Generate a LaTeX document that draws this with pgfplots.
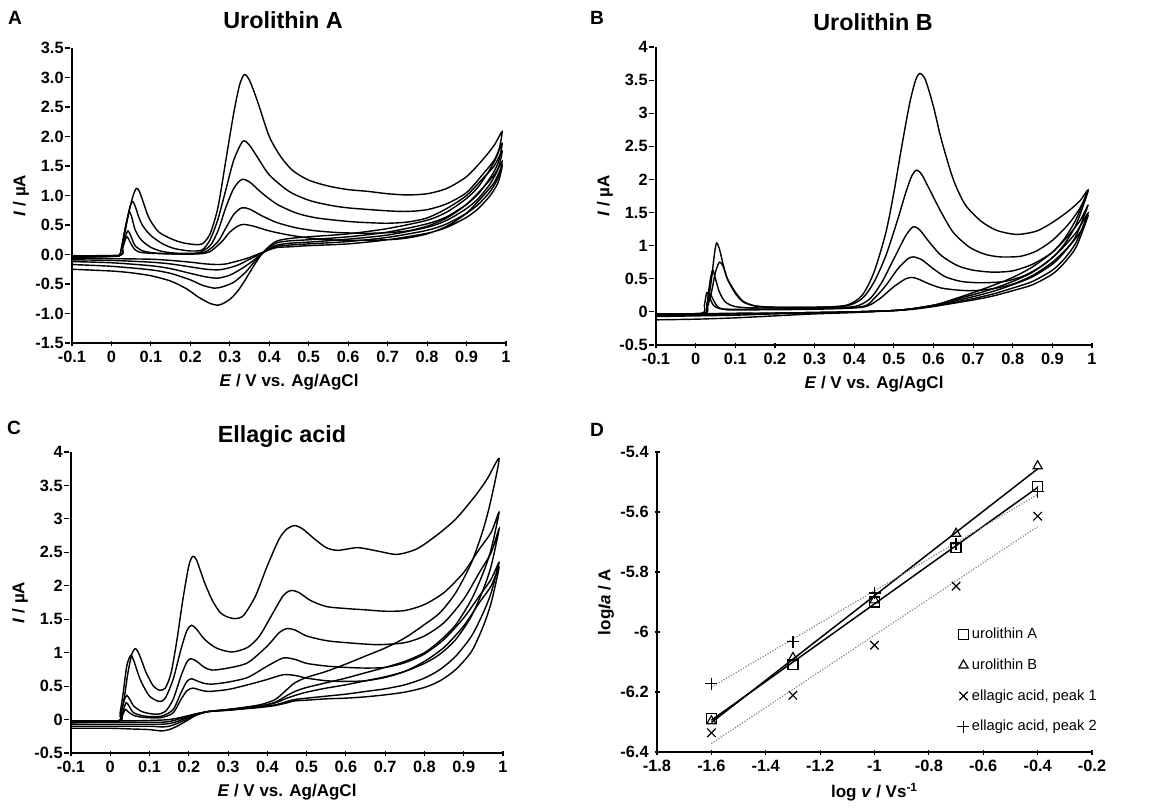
\documentclass[border=0pt]{standalone}
\usepackage{fontspec}
\setmainfont{Liberation Sans}
\usepackage{pgfplots}
\usepackage{pgfplotstable}
\pgfplotsset{compat=1.18}

\pgfplotsset{
  panel/.style={
    scale only axis,
    axis lines=left,
    axis line style={-, line width=0.95pt},
    tick style={black, line width=0.7pt},
    major tick length=3pt,
    tick label style={font=\fontsize{9.8}{11}\selectfont\bfseries},
    /pgf/number format/assume math mode=true,
    label style={font=\fontsize{10.2}{12}\selectfont\bfseries},
    ylabel shift=-3pt,
  },
  cv/.style={panel,
    xmin=-0.1, xmax=1,
    xtick={-0.1,0,0.1,0.2,0.3,0.4,0.5,0.6,0.7,0.8,0.9,1},
    xlabel={\textit{E} / V vs. Ag/AgCl},
    ylabel={\textit{I} / µA},
    ytick style={xshift=-3pt},
  },
  cvl/.style={black, line width=0.85pt, smooth, tension=0.45, mark=none},
}

\pgfplotstableread{
logv uroA uroB eaI eaII
-1.6 -6.289 -6.297 -6.336 -6.172
-1.3 -6.109 -6.086 -6.211 -6.033
-1.0 -5.900 -5.894 -6.044 -5.870
-0.7 -5.719 -5.672 -5.847 -5.706
-0.4 -5.514 -5.447 -5.614 -5.533
}\tabD

\begin{document}
\begin{tikzpicture}
\useasboundingbox (0,0) rectangle (703.8pt,-486.6pt);

% ---------- A: urolithin A ----------
\begin{axis}[cv, at={(43.2pt,-205.8pt)}, anchor=south west,
  width=260.4pt, height=177pt, ymin=-1.5, ymax=3.5,
  ytick={-1.5,-1,-0.5,0,0.5,1,1.5,2,2.5,3,3.5},
  yticklabel style={/pgf/number format/.cd, fixed, zerofill, precision=1}]
\addplot[cvl] coordinates {
(-0.1,-0.05) (0.0,-0.03) (0.02,-0.02) (0.025,0.1) (0.035,0.45) (0.045,0.75) (0.055,1.0) (0.063,1.12) (0.07,1.08) (0.08,0.9) (0.09,0.7) (0.1,0.56) (0.12,0.38) (0.15,0.27) (0.18,0.2) (0.21,0.17) (0.23,0.18) (0.25,0.35) (0.27,0.8) (0.29,1.6) (0.31,2.4) (0.325,2.88) (0.337,3.05) (0.35,2.95) (0.37,2.6) (0.4,2.0) (0.43,1.65) (0.46,1.42) (0.5,1.26) (0.55,1.16) (0.6,1.1) (0.65,1.07) (0.7,1.03) (0.75,1.01) (0.8,1.03) (0.85,1.12) (0.9,1.32) (0.94,1.6) (0.97,1.85) (0.99,2.08)
(0.98,1.72) (0.96,1.45) (0.93,1.15) (0.9,0.95) (0.85,0.72) (0.8,0.58) (0.7,0.44) (0.6,0.35) (0.5,0.3) (0.45,0.27) (0.42,0.23) (0.4,0.14) (0.38,0.0) (0.36,-0.2) (0.34,-0.42) (0.32,-0.62) (0.3,-0.76) (0.28,-0.84) (0.27,-0.86) (0.25,-0.83) (0.22,-0.72) (0.19,-0.58) (0.15,-0.45) (0.1,-0.36) (0.05,-0.31) (0.0,-0.28) (-0.1,-0.25)};
\addplot[cvl] coordinates {
(-0.1,-0.04) (0.0,-0.03) (0.02,-0.02) (0.025,0.1) (0.035,0.4) (0.045,0.75) (0.053,0.9) (0.06,0.82) (0.07,0.62) (0.08,0.48) (0.1,0.32) (0.13,0.18) (0.16,0.1) (0.2,0.06) (0.23,0.08) (0.25,0.25) (0.27,0.6) (0.29,1.1) (0.31,1.6) (0.333,1.92) (0.35,1.85) (0.37,1.65) (0.4,1.35) (0.45,1.07) (0.5,0.92) (0.55,0.84) (0.6,0.79) (0.7,0.74) (0.75,0.73) (0.8,0.76) (0.85,0.86) (0.9,1.05) (0.94,1.35) (0.97,1.6) (0.99,1.88)
(0.98,1.55) (0.96,1.3) (0.93,1.03) (0.9,0.85) (0.85,0.64) (0.8,0.52) (0.7,0.38) (0.6,0.3) (0.5,0.25) (0.45,0.23) (0.42,0.2) (0.4,0.12) (0.38,0.0) (0.36,-0.14) (0.34,-0.3) (0.31,-0.47) (0.28,-0.55) (0.26,-0.57) (0.23,-0.52) (0.2,-0.43) (0.15,-0.32) (0.1,-0.26) (0.0,-0.2) (-0.1,-0.17)};
\addplot[cvl] coordinates {
(-0.1,-0.04) (0.02,-0.02) (0.027,0.15) (0.035,0.45) (0.045,0.72) (0.052,0.62) (0.06,0.42) (0.075,0.25) (0.1,0.12) (0.13,0.05) (0.17,0.02) (0.22,0.03) (0.25,0.15) (0.27,0.4) (0.29,0.8) (0.31,1.12) (0.33,1.27) (0.35,1.23) (0.38,1.05) (0.42,0.85) (0.47,0.7) (0.52,0.62) (0.6,0.56) (0.65,0.54) (0.7,0.53) (0.75,0.55) (0.8,0.62) (0.85,0.78) (0.9,1.0) (0.94,1.28) (0.97,1.5) (0.99,1.75)
(0.98,1.45) (0.96,1.2) (0.93,0.95) (0.9,0.78) (0.85,0.58) (0.8,0.46) (0.7,0.33) (0.6,0.26) (0.5,0.21) (0.45,0.19) (0.42,0.16) (0.4,0.1) (0.38,0.01) (0.36,-0.1) (0.33,-0.24) (0.3,-0.35) (0.27,-0.4) (0.24,-0.38) (0.2,-0.32) (0.15,-0.24) (0.1,-0.19) (0.0,-0.14) (-0.1,-0.12)};
\addplot[cvl] coordinates {
(-0.1,-0.03) (0.02,-0.02) (0.028,0.12) (0.035,0.3) (0.042,0.4) (0.05,0.3) (0.06,0.15) (0.08,0.06) (0.12,0.02) (0.2,0.01) (0.24,0.05) (0.27,0.22) (0.29,0.45) (0.31,0.68) (0.33,0.79) (0.35,0.77) (0.38,0.66) (0.42,0.54) (0.47,0.45) (0.52,0.4) (0.58,0.37) (0.65,0.36) (0.7,0.37) (0.75,0.4) (0.8,0.48) (0.85,0.62) (0.9,0.85) (0.94,1.12) (0.97,1.35) (0.99,1.57)
(0.98,1.3) (0.96,1.07) (0.93,0.85) (0.9,0.7) (0.85,0.52) (0.8,0.41) (0.7,0.29) (0.6,0.22) (0.5,0.18) (0.45,0.16) (0.42,0.14) (0.4,0.09) (0.38,0.02) (0.35,-0.08) (0.32,-0.18) (0.29,-0.24) (0.27,-0.26) (0.24,-0.25) (0.2,-0.21) (0.15,-0.16) (0.1,-0.13) (0.0,-0.1) (-0.1,-0.09)};
\addplot[cvl] coordinates {
(-0.1,-0.02) (0.02,-0.01) (0.028,0.1) (0.035,0.25) (0.04,0.3) (0.048,0.2) (0.06,0.08) (0.08,0.03) (0.15,0.01) (0.22,0.01) (0.25,0.05) (0.28,0.22) (0.3,0.38) (0.32,0.48) (0.335,0.51) (0.36,0.48) (0.4,0.4) (0.45,0.33) (0.5,0.28) (0.55,0.25) (0.6,0.24) (0.7,0.25) (0.75,0.28) (0.8,0.35) (0.85,0.48) (0.9,0.7) (0.94,0.98) (0.97,1.22) (0.99,1.5)
(0.98,1.22) (0.96,1.0) (0.93,0.78) (0.9,0.63) (0.85,0.46) (0.8,0.36) (0.7,0.25) (0.6,0.18) (0.5,0.15) (0.45,0.13) (0.42,0.12) (0.4,0.08) (0.38,0.03) (0.35,-0.05) (0.32,-0.11) (0.29,-0.16) (0.27,-0.17) (0.24,-0.16) (0.2,-0.13) (0.15,-0.1) (0.1,-0.08) (0.0,-0.07) (-0.1,-0.06)};
\end{axis}

% ---------- B: urolithin B ----------
\begin{axis}[cv, at={(393.6pt,-207pt)}, anchor=south west,
  width=261.6pt, height=178.8pt, ymin=-0.5, ymax=4,
  ytick={-0.5,0,0.5,1,1.5,2,2.5,3,3.5,4}]
\addplot[cvl] coordinates {
(-0.1,-0.04) (0.02,-0.03) (0.03,0.1) (0.04,0.5) (0.048,0.9) (0.053,1.04) (0.06,0.95) (0.07,0.7) (0.08,0.5) (0.1,0.28) (0.12,0.15) (0.15,0.09) (0.2,0.07) (0.3,0.07) (0.38,0.1) (0.42,0.25) (0.45,0.6) (0.48,1.2) (0.5,1.8) (0.52,2.5) (0.54,3.15) (0.555,3.5) (0.566,3.6) (0.58,3.5) (0.6,3.1) (0.62,2.6) (0.65,2.0) (0.68,1.62) (0.72,1.37) (0.76,1.23) (0.81,1.17) (0.86,1.22) (0.9,1.35) (0.94,1.52) (0.97,1.68) (0.99,1.84)
(0.96,1.4) (0.93,1.1) (0.9,0.9) (0.85,0.68) (0.8,0.52) (0.75,0.4) (0.7,0.29) (0.65,0.19) (0.62,0.13) (0.6,0.1) (0.55,0.05) (0.5,0.02) (0.4,-0.01) (0.3,-0.03) (0.2,-0.06) (0.1,-0.09) (0.0,-0.11) (-0.1,-0.12)};
\addplot[cvl] coordinates {
(-0.1,-0.04) (0.02,-0.03) (0.03,0.08) (0.04,0.3) (0.05,0.6) (0.06,0.75) (0.07,0.68) (0.08,0.5) (0.1,0.3) (0.12,0.16) (0.15,0.09) (0.2,0.07) (0.3,0.07) (0.38,0.09) (0.42,0.2) (0.45,0.45) (0.48,0.85) (0.51,1.4) (0.53,1.8) (0.545,2.05) (0.557,2.14) (0.57,2.08) (0.59,1.85) (0.62,1.5) (0.65,1.2) (0.69,0.98) (0.73,0.87) (0.77,0.83) (0.82,0.84) (0.86,0.92) (0.9,1.08) (0.94,1.32) (0.97,1.57) (0.99,1.82)
(0.96,1.32) (0.93,1.02) (0.9,0.82) (0.85,0.6) (0.8,0.46) (0.75,0.35) (0.7,0.26) (0.65,0.18) (0.62,0.13) (0.6,0.1) (0.55,0.05) (0.5,0.02) (0.4,0.0) (0.3,-0.02) (0.2,-0.03) (0.1,-0.05) (0.0,-0.06) (-0.1,-0.07)};
\addplot[cvl] coordinates {
(-0.1,-0.04) (0.02,-0.03) (0.028,0.1) (0.036,0.45) (0.043,0.63) (0.05,0.5) (0.06,0.3) (0.075,0.15) (0.1,0.08) (0.15,0.06) (0.3,0.06) (0.4,0.08) (0.44,0.2) (0.47,0.45) (0.5,0.8) (0.53,1.15) (0.549,1.285) (0.565,1.24) (0.59,1.05) (0.62,0.85) (0.66,0.7) (0.7,0.63) (0.75,0.6) (0.8,0.62) (0.85,0.72) (0.9,0.9) (0.94,1.15) (0.97,1.38) (0.99,1.61)
(0.96,1.15) (0.93,0.9) (0.9,0.72) (0.85,0.53) (0.8,0.41) (0.75,0.31) (0.7,0.23) (0.65,0.16) (0.62,0.12) (0.6,0.1) (0.55,0.05) (0.5,0.02) (0.4,0.0) (0.3,-0.01) (0.2,-0.02) (0.1,-0.03) (0.0,-0.05) (-0.1,-0.06)};
\addplot[cvl] coordinates {
(-0.1,-0.03) (0.015,-0.02) (0.022,0.1) (0.028,0.29) (0.035,0.22) (0.045,0.1) (0.06,0.05) (0.1,0.04) (0.3,0.05) (0.42,0.08) (0.45,0.2) (0.48,0.4) (0.51,0.65) (0.535,0.8) (0.549,0.83) (0.57,0.79) (0.6,0.65) (0.63,0.53) (0.67,0.46) (0.72,0.44) (0.78,0.46) (0.83,0.55) (0.88,0.72) (0.92,0.93) (0.96,1.2) (0.99,1.49)
(0.96,1.05) (0.93,0.8) (0.9,0.63) (0.85,0.46) (0.8,0.36) (0.75,0.27) (0.7,0.2) (0.65,0.14) (0.62,0.11) (0.6,0.09) (0.55,0.05) (0.5,0.02) (0.4,0.0) (0.3,-0.01) (0.2,-0.02) (0.1,-0.03) (0.0,-0.04) (-0.1,-0.05)};
\addplot[cvl] coordinates {
(-0.1,-0.03) (0.02,-0.02) (0.028,0.1) (0.036,0.27) (0.043,0.2) (0.055,0.08) (0.07,0.04) (0.1,0.03) (0.3,0.04) (0.42,0.07) (0.46,0.18) (0.5,0.38) (0.53,0.5) (0.545,0.52) (0.56,0.5) (0.59,0.42) (0.62,0.36) (0.66,0.33) (0.7,0.32) (0.75,0.35) (0.8,0.42) (0.85,0.55) (0.9,0.75) (0.94,0.98) (0.97,1.2) (0.99,1.45)
(0.96,0.98) (0.93,0.74) (0.9,0.57) (0.85,0.41) (0.8,0.32) (0.75,0.24) (0.7,0.18) (0.65,0.13) (0.62,0.1) (0.6,0.08) (0.55,0.04) (0.5,0.02) (0.4,0.0) (0.3,-0.01) (0.2,-0.02) (0.1,-0.02) (0.0,-0.03) (-0.1,-0.04)};
\end{axis}

% ---------- C: ellagic acid ----------
\begin{axis}[cv, at={(42.6pt,-451.8pt)}, anchor=south west,
  width=259.2pt, height=180.6pt, ymin=-0.5, ymax=4,
  ytick={-0.5,0,0.5,1,1.5,2,2.5,3,3.5,4}]
\addplot[cvl] coordinates {
(-0.1,-0.04) (0.02,-0.02) (0.025,0.05) (0.035,0.3) (0.045,0.7) (0.055,0.98) (0.063,1.06) (0.07,1.02) (0.08,0.88) (0.09,0.72) (0.1,0.6) (0.11,0.5) (0.125,0.44) (0.14,0.47) (0.155,0.7) (0.17,1.2) (0.185,1.8) (0.2,2.3) (0.21,2.44) (0.22,2.38) (0.24,2.05) (0.26,1.78) (0.28,1.6) (0.3,1.53) (0.32,1.51) (0.34,1.56) (0.37,1.85) (0.4,2.3) (0.43,2.7) (0.45,2.85) (0.47,2.9) (0.49,2.85) (0.52,2.7) (0.55,2.57) (0.58,2.53) (0.63,2.57) (0.68,2.52) (0.73,2.47) (0.78,2.55) (0.83,2.75) (0.88,3.0) (0.93,3.35) (0.96,3.6) (0.99,3.9)
(0.97,3.3) (0.95,2.85) (0.92,2.35) (0.88,1.9) (0.84,1.6) (0.8,1.42) (0.75,1.22) (0.7,1.07) (0.65,0.95) (0.6,0.83) (0.55,0.72) (0.5,0.63) (0.47,0.55) (0.45,0.45) (0.42,0.3) (0.38,0.22) (0.3,0.15) (0.25,0.12) (0.22,0.07) (0.2,0.0) (0.17,-0.1) (0.15,-0.15) (0.13,-0.17) (0.1,-0.15) (0.05,-0.14) (0.0,-0.13) (-0.1,-0.13)};
\addplot[cvl] coordinates {
(-0.1,-0.05) (0.02,-0.02) (0.025,0.1) (0.033,0.4) (0.042,0.8) (0.052,0.96) (0.06,0.88) (0.07,0.7) (0.08,0.55) (0.1,0.35) (0.125,0.27) (0.14,0.32) (0.16,0.6) (0.18,1.05) (0.195,1.33) (0.207,1.41) (0.22,1.35) (0.24,1.2) (0.27,1.07) (0.31,1.01) (0.35,1.08) (0.38,1.25) (0.41,1.55) (0.44,1.85) (0.46,1.93) (0.48,1.9) (0.51,1.78) (0.55,1.69) (0.6,1.66) (0.65,1.64) (0.7,1.62) (0.75,1.63) (0.8,1.72) (0.85,1.9) (0.9,2.2) (0.94,2.55) (0.97,2.8) (0.99,3.1)
(0.97,2.55) (0.95,2.2) (0.92,1.8) (0.88,1.42) (0.84,1.18) (0.8,1.0) (0.75,0.87) (0.7,0.78) (0.65,0.7) (0.6,0.62) (0.55,0.55) (0.5,0.48) (0.47,0.42) (0.45,0.36) (0.42,0.26) (0.38,0.2) (0.3,0.15) (0.25,0.12) (0.22,0.07) (0.2,0.02) (0.17,-0.06) (0.15,-0.1) (0.13,-0.11) (0.1,-0.1) (0.0,-0.1) (-0.1,-0.1)};
\addplot[cvl] coordinates {
(-0.1,-0.04) (0.02,-0.02) (0.028,0.1) (0.036,0.3) (0.042,0.36) (0.05,0.3) (0.06,0.2) (0.08,0.12) (0.1,0.09) (0.12,0.08) (0.14,0.12) (0.16,0.3) (0.18,0.65) (0.195,0.86) (0.205,0.91) (0.22,0.87) (0.24,0.78) (0.26,0.74) (0.3,0.77) (0.35,0.85) (0.4,1.1) (0.43,1.3) (0.45,1.36) (0.47,1.34) (0.5,1.25) (0.55,1.18) (0.6,1.15) (0.68,1.12) (0.75,1.15) (0.8,1.25) (0.85,1.45) (0.9,1.8) (0.94,2.2) (0.97,2.5) (0.99,2.85)
(0.97,2.3) (0.95,1.95) (0.92,1.55) (0.88,1.2) (0.84,0.98) (0.8,0.84) (0.75,0.72) (0.7,0.64) (0.65,0.58) (0.6,0.52) (0.55,0.47) (0.5,0.41) (0.47,0.36) (0.45,0.32) (0.42,0.25) (0.38,0.2) (0.3,0.15) (0.25,0.12) (0.22,0.08) (0.2,0.04) (0.17,-0.03) (0.15,-0.06) (0.13,-0.07) (0.1,-0.07) (0.0,-0.07) (-0.1,-0.07)};
\addplot[cvl] coordinates {
(-0.1,-0.03) (0.02,-0.02) (0.03,0.08) (0.04,0.25) (0.048,0.2) (0.06,0.1) (0.09,0.05) (0.13,0.05) (0.16,0.15) (0.18,0.4) (0.195,0.57) (0.207,0.61) (0.22,0.58) (0.24,0.54) (0.26,0.53) (0.3,0.56) (0.35,0.63) (0.4,0.8) (0.44,0.92) (0.47,0.9) (0.5,0.84) (0.55,0.8) (0.6,0.78) (0.65,0.77) (0.7,0.78) (0.75,0.85) (0.8,0.98) (0.85,1.2) (0.9,1.52) (0.94,1.85) (0.97,2.1) (0.99,2.35)
(0.97,1.9) (0.95,1.6) (0.92,1.25) (0.88,0.95) (0.84,0.75) (0.8,0.62) (0.75,0.52) (0.7,0.46) (0.65,0.42) (0.6,0.38) (0.55,0.35) (0.5,0.32) (0.47,0.3) (0.45,0.27) (0.42,0.22) (0.38,0.19) (0.3,0.14) (0.25,0.12) (0.22,0.08) (0.2,0.05) (0.17,0.0) (0.15,-0.03) (0.13,-0.04) (0.1,-0.04) (0.0,-0.04) (-0.1,-0.04)};
\addplot[cvl] coordinates {
(-0.1,-0.03) (0.02,-0.02) (0.03,0.05) (0.038,0.15) (0.045,0.12) (0.06,0.06) (0.09,0.03) (0.13,0.03) (0.16,0.1) (0.18,0.3) (0.195,0.43) (0.21,0.47) (0.23,0.44) (0.25,0.42) (0.3,0.45) (0.35,0.52) (0.4,0.6) (0.44,0.67) (0.47,0.66) (0.5,0.62) (0.55,0.58) (0.6,0.57) (0.65,0.58) (0.7,0.63) (0.75,0.72) (0.8,0.87) (0.85,1.08) (0.9,1.4) (0.94,1.75) (0.97,2.0) (0.99,2.28)
(0.97,1.75) (0.95,1.4) (0.92,1.02) (0.88,0.75) (0.84,0.58) (0.8,0.48) (0.75,0.41) (0.7,0.37) (0.65,0.34) (0.6,0.32) (0.55,0.31) (0.5,0.29) (0.47,0.28) (0.45,0.25) (0.42,0.21) (0.38,0.18) (0.3,0.14) (0.25,0.12) (0.22,0.09) (0.2,0.06) (0.17,0.02) (0.15,0.0) (0.12,-0.01) (0.05,-0.02) (-0.1,-0.02)};
\end{axis}

% ---------- D: log Ia vs log v ----------
\begin{axis}[panel, at={(394.2pt,-451.2pt)}, anchor=south west,
  width=261pt, height=180pt,
  xmin=-1.8, xmax=-0.2, ymin=-6.4, ymax=-5.4,
  xtick={-1.8,-1.6,-1.4,-1.2,-1,-0.8,-0.6,-0.4,-0.2},
  ytick={-6.4,-6.2,-6,-5.8,-5.6,-5.4},
  xlabel={log \textit{v} / Vs\textsuperscript{-1}},
  ylabel={log\textit{Ia} / A},
  legend style={at={(0.69,0.425)}, anchor=north west, draw=none, fill=none,
    font=\fontsize{8.8}{10}\selectfont, row sep=6.5pt, inner sep=0pt,
    nodes={inner xsep=1.5pt}},
  legend cell align=left,
  legend image code/.code={\draw[#1] plot coordinates {(0pt,0pt)};}]
\addplot[black, only marks, mark=square, mark size=3pt, mark options={line width=0.7pt}] table[x=logv, y=uroA] {\tabD};
\addlegendentry{urolithin A}
\addplot[black, only marks, mark=triangle, mark size=3.2pt, mark options={line width=0.7pt}] table[x=logv, y=uroB] {\tabD};
\addlegendentry{urolithin B}
\addplot[black, only marks, mark=x, mark size=3.6pt, mark options={line width=0.7pt}] table[x=logv, y=eaI] {\tabD};
\addlegendentry{ellagic acid, peak 1}
\addplot[black, only marks, mark=+, mark size=3.6pt, mark options={line width=0.7pt}] table[x=logv, y=eaII] {\tabD};
\addlegendentry{ellagic acid, peak 2}
\addplot[black, line width=0.9pt, mark=none, forget plot] table[x=logv, y={create col/linear regression={y=uroA}}] {\tabD};
\addplot[black, line width=0.9pt, mark=none, forget plot] table[x=logv, y={create col/linear regression={y=uroB}}] {\tabD};
\addplot[gray, densely dotted, line width=0.7pt, mark=none, forget plot] table[x=logv, y={create col/linear regression={y=eaI}}] {\tabD};
\addplot[gray, densely dotted, line width=0.7pt, mark=none, forget plot] table[x=logv, y={create col/linear regression={y=eaII}}] {\tabD};
\end{axis}

% titles and panel letters
\node[font=\fontsize{14}{16}\selectfont\bfseries] at (169.8pt,-12pt) {Urolithin A};
\node[font=\fontsize{14}{16}\selectfont\bfseries] at (523.8pt,-13.2pt) {Urolithin B};
\node[font=\fontsize{14}{16}\selectfont\bfseries] at (169.2pt,-262.2pt) {Ellagic acid};
\node[font=\fontsize{11.5}{13}\selectfont\bfseries] at (9pt,-10.8pt) {A};
\node[font=\fontsize{11.5}{13}\selectfont\bfseries] at (358.2pt,-10.8pt) {B};
\node[font=\fontsize{11.5}{13}\selectfont\bfseries] at (8.4pt,-256.8pt) {C};
\node[font=\fontsize{11.5}{13}\selectfont\bfseries] at (358.2pt,-258pt) {D};
\end{tikzpicture}
\end{document}
